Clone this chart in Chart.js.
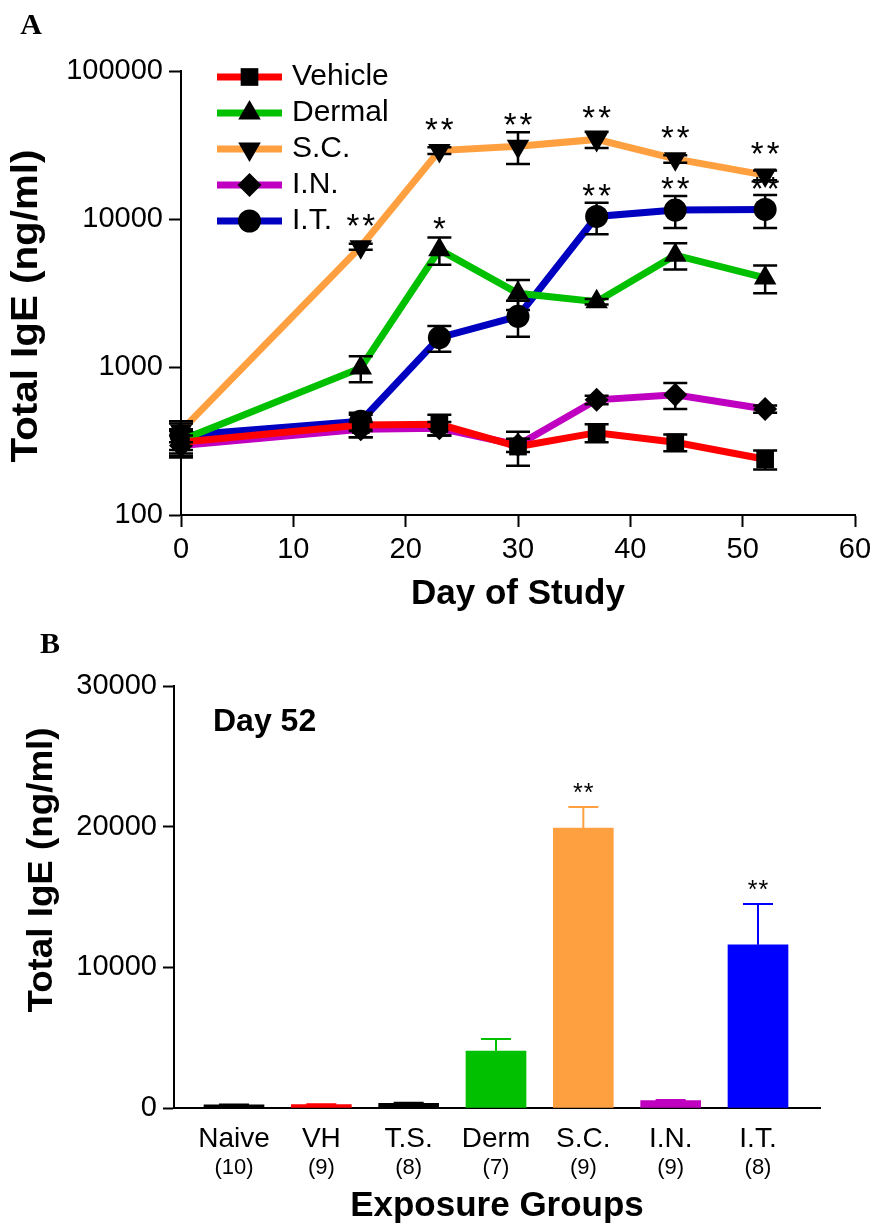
<!DOCTYPE html>
<html>
<head>
<meta charset="utf-8">
<title>Total IgE</title>
<script src="https://cdn.jsdelivr.net/npm/chart.js@4.4.1/dist/chart.umd.min.js"></script>
<style>
  body { margin: 0; background: #fff; }
  #wrap { position: relative; width: 874px; height: 1224px; }
  canvas { position: absolute; left: 0; }
  #chartA { top: 0; }
  #chartB { top: 620px; }
</style>
</head>
<body>
<div id="wrap">
  <canvas id="chartA" width="874" height="620"></canvas>
  <canvas id="chartB" width="874" height="604"></canvas>
</div>
<script>
const FONT = "Arial, 'Liberation Sans', Helvetica, sans-serif";
const SERIF = "'Liberation Serif', 'Times New Roman', serif";

// Panel A: total IgE by day (log axis)
const days = [0, 16, 23, 30, 37, 44, 52];
const vehicleIgE = [310, 405, 410, 290, 360, 310, 238];
const vehicleSem = [60, 70, 65, 75, 50, 40, 35];
const dermalIgE = [320, 985, 6200, 3150, 2760, 5700, 4000];
const dermalSem = [60, 195, 1300, 720, 120, 1150, 850];
const scIgE = [370, 6500, 29000, 31000, 34500, 25500, 19800];
const scSem = [60, 300, 1500, 7500, 4300, 1500, 1500];
const inIgE = [295, 380, 385, 297, 600, 650, 520];
const inSem = [50, 45, 40, 30, 40, 130, 30];
const itIgE = [345, 430, 1580, 2200, 10400, 11500, 11600];
const itSem = [70, 60, 310, 600, 2500, 2800, 2900];
const dermalStars = ['', '', '*', '', '', '', ''];
const scStars = ['', '**', '**', '**', '**', '**', '**'];
const itStars = ['', '', '', '', '**', '**', '**'];
const yTicksA = [100, 1000, 10000, 100000];

// Panel B: day 52
const groups = ['Naive', 'VH', 'T.S.', 'Derm', 'S.C.', 'I.N.', 'I.T.'];
const groupN = [10, 9, 8, 7, 9, 9, 8];
const day52IgE = [220, 240, 330, 4050, 19900, 520, 11600];
const day52Sem = [30, 30, 40, 850, 1500, 40, 2900];
const day52Stars = ['', '', '', '', '**', '', '**'];
const yTicksB = [0, 10000, 20000, 30000];

const seriesA = [
  { label: 'Vehicle', values: vehicleIgE, sem: vehicleSem, stars: [], color: '#ff0000', marker: 'rect', radius: 12.5 },
  { label: 'Dermal', values: dermalIgE, sem: dermalSem, stars: dermalStars, color: '#00c000', marker: 'triangle', radius: 13 },
  { label: 'S.C.', values: scIgE, sem: scSem, stars: scStars, color: '#ffa040', marker: 'triangle', rotation: 180, radius: 13 },
  { label: 'I.N.', values: inIgE, sem: inSem, stars: [], color: '#c000c0', marker: 'rectRot', radius: 12 },
  { label: 'I.T.', values: itIgE, sem: itSem, stars: itStars, color: '#0000c0', marker: 'circle', radius: 11.5 }
];
const barColors = ['#000000', '#ff0000', '#000000', '#00c000', '#ffa040', '#c000c0', '#0000ff'];

const errorBars = {
  id: 'errorBars',
  afterDatasetsDraw(chart, args, o) {
    const { ctx, scales: { y } } = chart;
    ctx.save();
    ctx.lineWidth = o.width;
    chart.data.datasets.forEach((ds, i) => {
      chart.getDatasetMeta(i).data.forEach((el, j) => {
        const v = ds.data[j].y, e = ds.sem[j];
        const top = y.getPixelForValue(v + e);
        const bottom = y.getPixelForValue(o.upOnly ? v : v - e);
        ctx.strokeStyle = Array.isArray(ds.errorColor) ? ds.errorColor[j] : ds.errorColor;
        ctx.beginPath();
        ctx.moveTo(el.x, top); ctx.lineTo(el.x, bottom);
        ctx.moveTo(el.x - o.cap / 2, top); ctx.lineTo(el.x + o.cap / 2, top);
        if (!o.upOnly) { ctx.moveTo(el.x - o.cap / 2, bottom); ctx.lineTo(el.x + o.cap / 2, bottom); }
        ctx.stroke();
      });
    });
    ctx.restore();
  }
};

const stars = {
  id: 'stars',
  afterDatasetsDraw(chart, args, o) {
    const { ctx, scales: { y } } = chart;
    ctx.save();
    ctx.font = o.font; ctx.fillStyle = '#000';
    ctx.textAlign = 'center'; ctx.textBaseline = 'middle';
    ctx.letterSpacing = o.spacing + 'px';
    chart.data.datasets.forEach((ds, i) => {
      chart.getDatasetMeta(i).data.forEach((el, j) => {
        const s = ds.stars[j];
        if (!s) return;
        const ref = o.fromError ? y.getPixelForValue(ds.data[j].y + ds.sem[j]) : el.y;
        ctx.fillText(s, el.x + o.spacing / 2, ref - o.gap);
      });
    });
    ctx.restore();
  }
};

const legendA = {
  id: 'legendA',
  afterDraw(chart, args, o) {
    const ctx = chart.ctx;
    ctx.save();
    chart.data.datasets.forEach((ds, i) => {
      const y = o.top + i * o.step;
      ctx.strokeStyle = ds.borderColor; ctx.lineWidth = ds.borderWidth;
      ctx.beginPath(); ctx.moveTo(o.left, y); ctx.lineTo(o.left + o.length, y); ctx.stroke();
      ctx.fillStyle = '#000';
      Chart.helpers.drawPoint(ctx, { pointStyle: ds.pointStyle, rotation: ds.pointRotation, radius: ds.pointRadius, borderWidth: 0 }, o.left + o.length / 2, y);
      ctx.font = o.font; ctx.textAlign = 'left'; ctx.textBaseline = 'middle';
      ctx.fillText(ds.label, o.left + o.length + o.gap, y);
    });
    ctx.restore();
  }
};

// rotated y title, stretched along its length to fit the original figure
const sideTitle = {
  id: 'sideTitle',
  afterDraw(chart, args, o) {
    const ctx = chart.ctx;
    ctx.save();
    ctx.translate(o.x, o.y); ctx.rotate(-Math.PI / 2); ctx.scale(o.stretch, 1);
    ctx.font = o.font; ctx.fillStyle = '#000';
    ctx.textAlign = 'center'; ctx.textBaseline = 'middle';
    ctx.fillText(o.text, 0, 0);
    ctx.restore();
  }
};

const notes = {
  id: 'notes',
  afterDraw(chart, args, o) {
    const ctx = chart.ctx;
    ctx.save();
    ctx.fillStyle = '#000'; ctx.textBaseline = 'middle';
    o.items.forEach(t => { ctx.font = t.font; ctx.textAlign = t.align; ctx.fillText(t.text, t.x, t.y); });
    ctx.restore();
  }
};

const groupCounts = {
  id: 'groupCounts',
  afterDraw(chart, args, o) {
    const { ctx, scales: { x } } = chart;
    ctx.save();
    ctx.font = o.font; ctx.fillStyle = '#000';
    ctx.textAlign = 'center'; ctx.textBaseline = 'middle';
    groupN.forEach((n, i) => ctx.fillText('(' + n + ')', x.getPixelForValue(i + 1), o.y));
    ctx.restore();
  }
};

const tickFont = { family: FONT, size: 29, lineHeight: 1 };
const axisGrid = { drawOnChartArea: false, tickLength: 12, tickWidth: 2, tickColor: '#000', color: '#000' };
const axisBorder = { color: '#000', width: 2 };

new Chart(document.getElementById('chartA'), {
  type: 'line',
  data: {
    datasets: seriesA.map(s => ({
      label: s.label,
      data: days.map((d, k) => ({ x: d, y: s.values[k] })),
      sem: s.sem, stars: s.stars, errorColor: '#000',
      borderColor: s.color, backgroundColor: s.color, borderWidth: 7,
      pointStyle: s.marker, pointRotation: s.rotation || 0, pointRadius: s.radius,
      pointBackgroundColor: '#000', pointBorderColor: '#000', pointBorderWidth: 0,
      tension: 0, clip: false
    }))
  },
  options: {
    responsive: false, animation: false, events: [],
    layout: { padding: { top: 71, right: 19, left: 0, bottom: 0 } },
    plugins: {
      legend: { display: false }, tooltip: { enabled: false },
      errorBars: { cap: 24, width: 2.5 },
      stars: { font: '33px ' + FONT, gap: 19, spacing: 3 },
      legendA: { left: 217, top: 77, step: 36, length: 65, gap: 10, font: '30px ' + FONT },
      sideTitle: { text: 'Total IgE (ng/ml)', x: 27, y: 306, stretch: 1.12, font: 'bold 36px ' + FONT },
      notes: { items: [{ text: 'A', x: 31, y: 26, align: 'center', font: 'bold 30px ' + SERIF }] }
    },
    scales: {
      x: {
        type: 'linear', min: 0, max: 60,
        afterFit: s => { s.height = 105; s.paddingRight = 0; },
        ticks: { stepSize: 10, font: tickFont, color: '#000', padding: 8, maxRotation: 0 },
        grid: axisGrid, border: axisBorder,
        title: { display: true, text: 'Day of Study', color: '#000', font: { family: FONT, size: 35, weight: 'bold', lineHeight: 1 }, padding: { top: 0, bottom: 8 } }
      },
      y: {
        type: 'logarithmic', min: 100, max: 100000,
        afterFit: s => { s.width = 181; },
        afterBuildTicks: s => { s.ticks = yTicksA.map(v => ({ value: v })); },
        ticks: { font: tickFont, color: '#000', padding: 6, callback: v => String(v) },
        grid: axisGrid, border: axisBorder
      }
    }
  },
  plugins: [errorBars, stars, legendA, sideTitle, notes]
});

new Chart(document.getElementById('chartB'), {
  type: 'bar',
  data: {
    datasets: [{
      data: day52IgE.map((v, i) => ({ x: i + 1, y: v })),
      sem: day52Sem, stars: day52Stars,
      backgroundColor: barColors, errorColor: barColors,
      barThickness: 60, borderWidth: 0
    }]
  },
  options: {
    responsive: false, animation: false, events: [],
    layout: { padding: { top: 66, right: 54, left: 0, bottom: 0 } },
    plugins: {
      legend: { display: false }, tooltip: { enabled: false },
      errorBars: { cap: 30, width: 2, upOnly: true },
      stars: { font: '25px ' + FONT, gap: 13, spacing: 1, fromError: true },
      groupCounts: { y: 548, font: '22px ' + FONT },
      sideTitle: { text: 'Total IgE (ng/ml)', x: 42, y: 250, stretch: 1.05, font: 'bold 35px ' + FONT },
      notes: { items: [
        { text: 'B', x: 50, y: 25, align: 'center', font: 'bold 30px ' + SERIF },
        { text: 'Day 52', x: 213, y: 102, align: 'left', font: 'bold 32px ' + FONT }
      ] }
    },
    scales: {
      x: {
        type: 'linear', min: 0.313, max: 7.71, offset: false,
        afterFit: s => { s.height = 116; },
        afterBuildTicks: s => { s.ticks = groups.map((g, i) => ({ value: i + 1 })); },
        ticks: { font: { family: FONT, size: 28, lineHeight: 1 }, color: '#000', padding: 17, maxRotation: 0, autoSkip: false,
                 callback: v => groups[Math.round(v) - 1] },
        grid: { display: false, drawTicks: false, offset: false },
        border: axisBorder,
        title: { display: true, text: 'Exposure Groups', color: '#000', font: { family: FONT, size: 35, weight: 'bold', lineHeight: 1 }, padding: { top: 0, bottom: 0 } }
      },
      y: {
        min: 0, max: 30000,
        afterFit: s => { s.width = 174; },
        afterBuildTicks: s => { s.ticks = yTicksB.map(v => ({ value: v })); },
        ticks: { font: tickFont, color: '#000', padding: 6, callback: v => String(v) },
        grid: { drawOnChartArea: false, tickLength: 11, tickWidth: 2, tickColor: '#000', color: '#000' },
        border: axisBorder
      }
    }
  },
  plugins: [errorBars, stars, groupCounts, sideTitle, notes]
});
</script>
</body>
</html>
